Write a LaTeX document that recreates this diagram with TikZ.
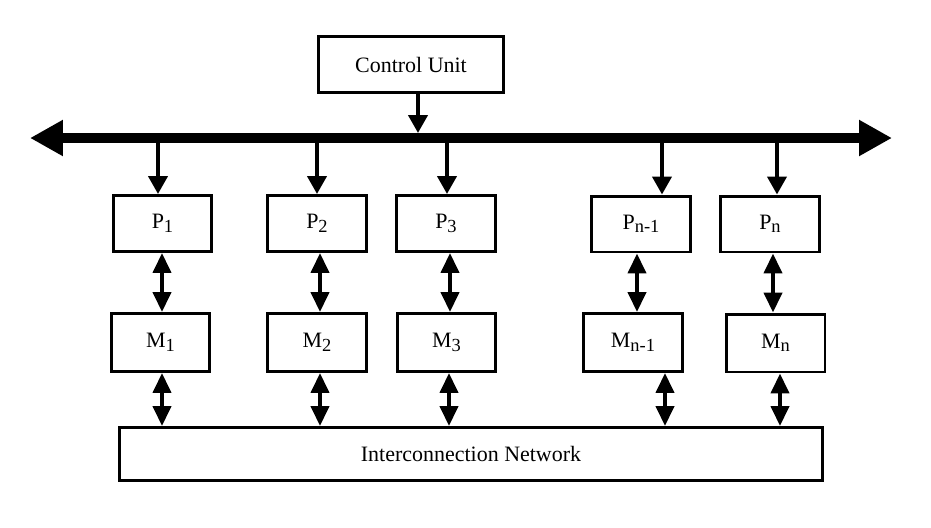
\documentclass[tikz,border=0pt]{standalone}
\usepackage{fontspec}
\setmainfont{Liberation Serif}
\usepackage{tikz}
\usetikzlibrary{arrows.meta}
\newcommand{\idx}[1]{\raisebox{-2pt}{\fontsize{10.5}{12}\selectfont #1}}

\begin{document}
\begin{tikzpicture}[x=0.02cm, y=-0.02cm,
    unit/.style={draw, line width=1.7pt, inner sep=0pt, minimum width=1.98cm,
                 minimum height=1.12cm, font=\fontsize{12.5}{15}\selectfont},
    link/.style={line width=2.3pt, -{Triangle[length=0.36cm,width=0.38cm]}},
    duplex/.style={line width=2.3pt,
                   {Triangle[length=0.4cm,width=0.36cm]}-{Triangle[length=0.4cm,width=0.36cm]}},
    bus/.style={line width=0.2cm,
                {Triangle[length=0.66cm,width=0.68cm]}-{Triangle[length=0.66cm,width=0.68cm]}}]
        \useasboundingbox (0,0) rectangle (931,528);                            %
        \node [unit, minimum width=3.7cm]  (cu)  at (411,64.5)  {Control Unit}; %CU
        \coordinate (busL) at (30,138);                                         %
        \coordinate (busR) at (892,138);                                        %
        \draw [bus] (busL) -- (busR);                                           %bus
        \coordinate (tap) at (418,133);                                         %
        \draw [link] (cu.south -| tap) -- (tap);                                %
        \node [unit]                  (p1)  at (162.5,223.5) {P\idx{1}};        %PEs
        \node [unit]                  (p2)  at (317,223.5)   {P\idx{2}};        %
        \node [unit]                  (p3)  at (446,223.5)   {P\idx{3}};        %
        \node [unit]                  (pn1) at (641,224)     {P\idx{n-1}};      %
        \node [unit]                  (pn)  at (770,224)     {P\idx{n}};        %
        \node [unit, minimum height=1.16cm] (m1)  at (160.5,342.5) {M\idx{1}};  %memories
        \node [unit, minimum height=1.16cm] (m2)  at (317,342.5)   {M\idx{2}};  %
        \node [unit, minimum height=1.16cm] (m3)  at (446.5,342.5) {M\idx{3}};  %
        \node [unit, minimum height=1.16cm] (mn1) at (633,342.5)   {M\idx{n-1}};%
        \node [unit, minimum height=1.16cm] (mn)  at (775.5,343)   {M\idx{n}};  %
        \node [unit, minimum width=14.06cm, minimum height=1.06cm]
              (net) at (471,454) {Interconnection Network};                     %IN
        \foreach \p/\m/\a/\b/\c [count=\i] in
            {p1/m1/158/162/162, p2/m2/317/320/320, p3/m3/447/450/449,
             pn1/mn1/662/637/665, pn/mn/777/773/780} {
          \coordinate (d\i) at (\a,143);                                        %
          \coordinate (u\i) at (\b,0);                                          %
          \coordinate (w\i) at (\c,0);                                          %
          \draw [link]   (d\i) -- (d\i |- \p.north);                            %
          \draw [duplex] (u\i |- \p.south) -- (u\i |- \m.north);                %
          \draw [duplex] (w\i |- \m.south) -- (w\i |- net.north);               %
        }
\end{tikzpicture}
\end{document}
